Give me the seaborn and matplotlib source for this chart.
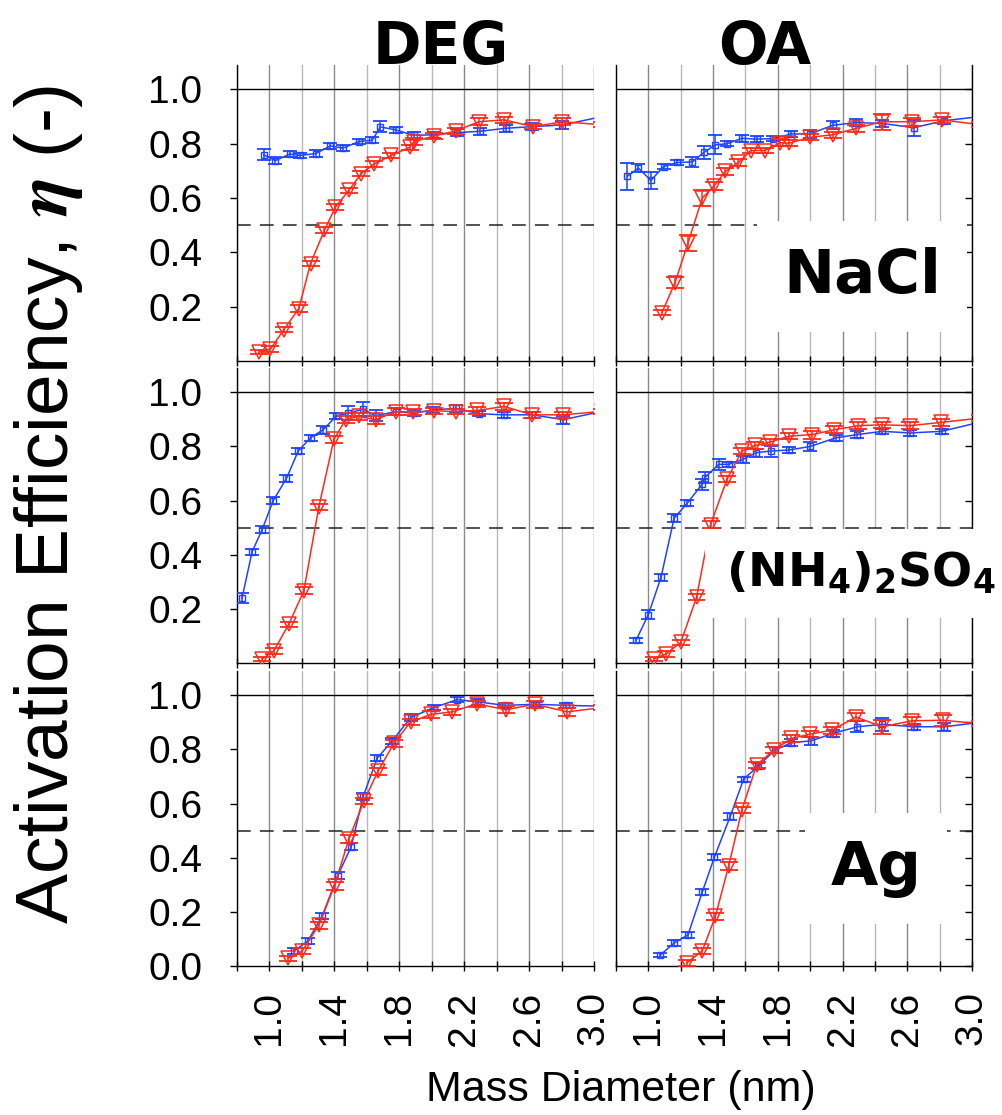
import numpy as np
import matplotlib
matplotlib.use("Agg")
import matplotlib.pyplot as plt
import seaborn as sns
from matplotlib import font_manager as fm

# ---------------- data ----------------
col_titles = ["DEG", "OA"]
row_labels = ["NaCl", r"$\mathbf{(NH_4)_2SO_4}$", "Ag"]
x_major = [1.0, 1.4, 1.8, 2.2, 2.6, 3.0]
x_minor = [0.8, 1.2, 1.6, 2.0, 2.4, 2.8]
x_ticklabels = ["1.0", "1.4", "1.8", "2.2", "2.6", "3.0"]
y_ticks_full = [0.0, 0.2, 0.4, 0.6, 0.8, 1.0]
y_ticks_upper = [0.2, 0.4, 0.6, 0.8, 1.0]
y_ticklabels_full = ["0.0", "0.2", "0.4", "0.6", "0.8", "1.0"]
y_ticklabels_upper = ["0.2", "0.4", "0.6", "0.8", "1.0"]

# DEG / NaCl
deg_nacl_blue_x = [0.965, 1.037, 1.125, 1.191, 1.284, 1.376, 1.454, 1.551, 1.633, 1.684, 1.777, 1.89, 2.013, 2.157, 2.30, 2.455, 2.62, 2.805, 3.05]
deg_nacl_blue_y = [0.759, 0.738, 0.762, 0.757, 0.764, 0.792, 0.784, 0.808, 0.813, 0.862, 0.851, 0.831, 0.833, 0.841, 0.846, 0.857, 0.863, 0.869, 0.90]
deg_nacl_blue_e = [0.02, 0.012, 0.01, 0.01, 0.012, 0.012, 0.01, 0.01, 0.012, 0.02, 0.01, 0.012, 0.01, 0.012, 0.012, 0.012, 0.012, 0.015, 0.01]
deg_nacl_red_x = [0.934, 1.006, 1.088, 1.181, 1.253, 1.339, 1.407, 1.489, 1.565, 1.647, 1.75, 1.865, 1.89, 2.017, 2.147, 2.29, 2.445, 2.626, 2.805, 3.05]
deg_nacl_red_y = [0.032, 0.044, 0.115, 0.193, 0.359, 0.482, 0.567, 0.628, 0.690, 0.726, 0.757, 0.787, 0.808, 0.829, 0.847, 0.881, 0.888, 0.863, 0.881, 0.87]
deg_nacl_red_e = [0.008, 0.01, 0.01, 0.012, 0.01, 0.01, 0.01, 0.01, 0.01, 0.01, 0.01, 0.01, 0.012, 0.01, 0.01, 0.012, 0.012, 0.01, 0.012, 0.01]

# OA / NaCl
oa_nacl_blue_x = [0.869, 0.939, 1.016, 1.094, 1.18, 1.271, 1.343, 1.414, 1.486, 1.578, 1.669, 1.771, 1.884, 1.996, 2.139, 2.282, 2.445, 2.639, 2.829, 3.05]
oa_nacl_blue_y = [0.680, 0.710, 0.665, 0.716, 0.731, 0.733, 0.768, 0.796, 0.80, 0.820, 0.817, 0.819, 0.836, 0.836, 0.868, 0.878, 0.875, 0.859, 0.885, 0.90]
oa_nacl_blue_e = [0.05, 0.015, 0.03, 0.01, 0.01, 0.02, 0.025, 0.035, 0.01, 0.012, 0.01, 0.01, 0.01, 0.015, 0.015, 0.012, 0.012, 0.03, 0.012, 0.01]
oa_nacl_red_x = [1.084, 1.165, 1.245, 1.333, 1.404, 1.476, 1.557, 1.633, 1.720, 1.816, 1.869, 2.0, 2.139, 2.286, 2.441, 2.629, 2.816, 3.05]
oa_nacl_red_y = [0.178, 0.289, 0.435, 0.600, 0.643, 0.698, 0.731, 0.775, 0.775, 0.804, 0.802, 0.824, 0.833, 0.857, 0.881, 0.881, 0.888, 0.87]
oa_nacl_red_e = [0.01, 0.02, 0.03, 0.03, 0.015, 0.012, 0.012, 0.01, 0.01, 0.012, 0.012, 0.012, 0.012, 0.012, 0.03, 0.015, 0.01, 0.01]

# DEG / (NH4)2SO4
deg_as_blue_x = [0.831, 0.893, 0.955, 1.023, 1.105, 1.177, 1.253, 1.331, 1.413, 1.483, 1.578, 1.654, 1.777, 1.89, 2.009, 2.147, 2.291, 2.445, 2.62, 2.811, 3.05]
deg_as_blue_y = [0.240, 0.411, 0.493, 0.60, 0.682, 0.783, 0.832, 0.862, 0.913, 0.923, 0.938, 0.913, 0.929, 0.923, 0.935, 0.941, 0.921, 0.917, 0.917, 0.899, 0.93]
deg_as_blue_e = [0.02, 0.012, 0.012, 0.012, 0.012, 0.01, 0.01, 0.015, 0.012, 0.025, 0.025, 0.02, 0.012, 0.012, 0.01, 0.012, 0.01, 0.01, 0.01, 0.015, 0.01]
deg_as_red_x = [0.955, 1.027, 1.119, 1.212, 1.304, 1.397, 1.469, 1.551, 1.654, 1.777, 1.886, 2.013, 2.147, 2.28, 2.445, 2.62, 2.811, 3.05]
deg_as_red_y = [0.015, 0.045, 0.143, 0.267, 0.576, 0.826, 0.899, 0.911, 0.899, 0.929, 0.927, 0.932, 0.929, 0.933, 0.948, 0.917, 0.917, 0.93]
deg_as_red_e = [0.008, 0.01, 0.01, 0.012, 0.012, 0.012, 0.012, 0.012, 0.015, 0.012, 0.012, 0.012, 0.01, 0.012, 0.012, 0.012, 0.012, 0.01]

# OA / (NH4)2SO4
oa_as_blue_x = [0.924, 1.0, 1.078, 1.159, 1.241, 1.333, 1.349, 1.435, 1.496, 1.584, 1.665, 1.755, 1.869, 2.0, 2.159, 2.292, 2.445, 2.618, 2.812, 3.05]
oa_as_blue_y = [0.084, 0.179, 0.316, 0.535, 0.591, 0.661, 0.685, 0.734, 0.734, 0.752, 0.777, 0.783, 0.787, 0.80, 0.832, 0.844, 0.856, 0.85, 0.856, 0.89]
oa_as_blue_e = [0.01, 0.015, 0.012, 0.015, 0.012, 0.02, 0.02, 0.02, 0.01, 0.012, 0.015, 0.02, 0.01, 0.015, 0.012, 0.012, 0.01, 0.01, 0.01, 0.01]
oa_as_red_x = [1.033, 1.108, 1.2, 1.298, 1.384, 1.486, 1.578, 1.659, 1.751, 1.869, 2.012, 2.149, 2.298, 2.445, 2.618, 2.808, 3.05]
oa_as_red_y = [0.015, 0.033, 0.076, 0.243, 0.511, 0.679, 0.783, 0.804, 0.816, 0.838, 0.844, 0.862, 0.877, 0.880, 0.877, 0.889, 0.905]
oa_as_red_e = [0.008, 0.01, 0.01, 0.012, 0.012, 0.012, 0.012, 0.012, 0.012, 0.012, 0.015, 0.012, 0.012, 0.012, 0.012, 0.012, 0.01]

# DEG / Ag
deg_ag_blue_x = [1.15, 1.236, 1.325, 1.421, 1.504, 1.578, 1.664, 1.756, 1.87, 2.013, 2.157, 2.285, 2.449, 2.64, 2.825, 3.05]
deg_ag_blue_y = [0.055, 0.092, 0.185, 0.334, 0.441, 0.627, 0.768, 0.831, 0.918, 0.955, 0.984, 0.976, 0.963, 0.967, 0.963, 0.96]
deg_ag_blue_e = [0.01, 0.01, 0.01, 0.012, 0.012, 0.012, 0.012, 0.01, 0.012, 0.01, 0.01, 0.01, 0.01, 0.01, 0.01, 0.01]
deg_ag_red_x = [1.113, 1.201, 1.304, 1.401, 1.489, 1.582, 1.668, 1.767, 1.87, 1.997, 2.126, 2.276, 2.455, 2.636, 2.836, 3.05]
deg_ag_red_y = [0.028, 0.055, 0.150, 0.297, 0.468, 0.609, 0.719, 0.823, 0.902, 0.930, 0.939, 0.969, 0.947, 0.967, 0.939, 0.955]
deg_ag_red_e = [0.01, 0.012, 0.012, 0.015, 0.015, 0.012, 0.012, 0.012, 0.012, 0.012, 0.012, 0.012, 0.012, 0.012, 0.015, 0.01]

# OA / Ag
oa_ag_blue_x = [1.073, 1.159, 1.245, 1.333, 1.408, 1.506, 1.588, 1.680, 1.782, 1.884, 2.006, 2.139, 2.292, 2.445, 2.639, 2.829, 3.05]
oa_ag_blue_y = [0.040, 0.085, 0.115, 0.273, 0.402, 0.553, 0.690, 0.739, 0.798, 0.825, 0.832, 0.859, 0.884, 0.893, 0.884, 0.884, 0.90]
oa_ag_blue_e = [0.008, 0.01, 0.01, 0.01, 0.01, 0.012, 0.01, 0.012, 0.012, 0.012, 0.015, 0.012, 0.02, 0.025, 0.012, 0.015, 0.01]
oa_ag_red_x = [1.237, 1.333, 1.414, 1.496, 1.578, 1.669, 1.776, 1.884, 2.0, 2.135, 2.282, 2.445, 2.629, 2.822, 3.05]
oa_ag_red_y = [0.011, 0.056, 0.183, 0.369, 0.577, 0.743, 0.798, 0.841, 0.857, 0.871, 0.920, 0.884, 0.906, 0.908, 0.895]
oa_ag_red_e = [0.01, 0.012, 0.012, 0.015, 0.012, 0.012, 0.012, 0.012, 0.012, 0.012, 0.015, 0.025, 0.015, 0.02, 0.01]

panels = {
    (0, 0): (deg_nacl_blue_x, deg_nacl_blue_y, deg_nacl_blue_e, deg_nacl_red_x, deg_nacl_red_y, deg_nacl_red_e),
    (0, 1): (oa_nacl_blue_x, oa_nacl_blue_y, oa_nacl_blue_e, oa_nacl_red_x, oa_nacl_red_y, oa_nacl_red_e),
    (1, 0): (deg_as_blue_x, deg_as_blue_y, deg_as_blue_e, deg_as_red_x, deg_as_red_y, deg_as_red_e),
    (1, 1): (oa_as_blue_x, oa_as_blue_y, oa_as_blue_e, oa_as_red_x, oa_as_red_y, oa_as_red_e),
    (2, 0): (deg_ag_blue_x, deg_ag_blue_y, deg_ag_blue_e, deg_ag_red_x, deg_ag_red_y, deg_ag_red_e),
    (2, 1): (oa_ag_blue_x, oa_ag_blue_y, oa_ag_blue_e, oa_ag_red_x, oa_ag_red_y, oa_ag_red_e),
}

# ---------------- style ----------------
sns.set_style("white")
plt.rcParams["font.family"] = ["Liberation Sans", "DejaVu Sans"]
for key in ["text.color", "axes.labelcolor", "xtick.color", "ytick.color", "axes.edgecolor"]:
    plt.rcParams[key] = "black"
names = {f.name for f in fm.fontManager.ttflist}
has_narrow = "Liberation Sans Narrow" in names

BLUE = "#1f44ff"
RED = "#ff2a1a"
W, H = 1003, 1115

fig = plt.figure(figsize=(W / 100, H / 100), dpi=100)

col_px = [(237, 594), (616, 972)]
row_px = [(65, 361), (368, 663), (671, 966)]
xlims = [(0.8, 3.0), (0.82, 3.0)]

for r in range(3):
    for c in range(2):
        x0, x1 = col_px[c]
        y0, y1 = row_px[r]
        ax = fig.add_axes([x0 / W, 1 - y1 / H, (x1 - x0) / W, (y1 - y0) / H])
        bx, by, be, rx, ry, re = panels[(r, c)]

        ax.set_xlim(*xlims[c])
        ax.set_ylim(0, 1.09)
        ax.set_xticks(x_major)
        ax.set_xticks(x_minor, minor=True)
        ax.grid(axis="x", which="major", color="#8a8a8a", lw=1.0, zorder=0)
        ax.grid(axis="x", which="minor", color="#b8b8b8", lw=1.0, zorder=0)
        ax.set_axisbelow(True)

        ax.axhline(1.0, color="black", lw=1.0, zorder=1)
        ax.axhline(0.5, color="#222222", lw=1.1, ls=(0, (9, 6)), zorder=1)

        ax.errorbar(bx, by, yerr=be, fmt="none", ecolor=BLUE, elinewidth=1.1,
                    capsize=5.2, capthick=1.3, zorder=3)
        sns.lineplot(x=bx, y=by, ax=ax, color=BLUE, lw=1.1, marker="s", markersize=4.5,
                     mfc="none", mec=BLUE, mew=1.0, sort=False, estimator=None,
                     errorbar=None, zorder=3)
        ax.errorbar(rx, ry, yerr=re, fmt="none", ecolor=RED, elinewidth=1.1,
                    capsize=6.2, capthick=1.3, zorder=4)
        sns.lineplot(x=rx, y=ry, ax=ax, color=RED, lw=1.1, marker="v", markersize=9.5,
                     mfc="none", mec=RED, mew=1.1, sort=False, estimator=None,
                     errorbar=None, zorder=4)
        ax.set_xlabel("")
        ax.set_ylabel("")

        for s in ax.spines.values():
            s.set_color("black")
            s.set_linewidth(1.0)
        ax.spines["top"].set_visible(False)

        # x ticks
        ax.tick_params(axis="x", which="both", direction="inout", length=6.5, width=1.0,
                       color="black", bottom=True, top=False, labelsize=28, pad=15,
                       labelrotation=90, labelcolor="black")
        if r == 2:
            ax.set_xticklabels(x_ticklabels)
        else:
            ax.tick_params(axis="x", labelbottom=False)

        # y ticks
        if c == 0:
            ax.spines["right"].set_visible(False)
            if r == 2:
                ax.set_yticks(y_ticks_full)
                ax.set_yticklabels(y_ticklabels_full)
            else:
                ax.set_yticks(y_ticks_upper)
                ax.set_yticklabels(y_ticklabels_upper)
            ax.tick_params(axis="y", direction="out", length=5, width=1.0, color="black",
                           left=True, right=False, labelsize=28, pad=20, labelcolor="black")
        else:
            if r == 2:
                ax.set_yticks(np.arange(0.0, 1.01, 0.1))
            else:
                ax.set_yticks(y_ticks_upper)
            ax.tick_params(axis="y", direction="in", length=5, width=1.0, color="black",
                           left=False, right=True, labelleft=False, labelright=False)

        # compound label in the right column
        if c == 1:
            box = dict(boxstyle="square,pad=0.42", fc="white", ec="none")
            if r == 0:
                ax.text(0.691, 0.23, row_labels[0], transform=ax.transAxes, ha="center",
                        va="baseline", fontsize=44, fontweight="bold", family="DejaVu Sans",
                        color="black", bbox=box, zorder=10, clip_on=False)
            elif r == 1:
                ax.text(0.31, 0.258, row_labels[1], transform=ax.transAxes, ha="left",
                        va="baseline", fontsize=34, math_fontfamily="dejavusans",
                        color="black",
                        bbox=dict(boxstyle="square,pad=0.45", fc="white", ec="none"),
                        zorder=10, clip_on=False)
            else:
                ax.text(0.730, 0.275, row_labels[2], transform=ax.transAxes, ha="center",
                        va="baseline", fontsize=44, fontweight="bold", family="DejaVu Sans",
                        color="black", bbox=box, zorder=10, clip_on=False)

# column titles
if has_narrow:
    tkw = dict(family=["Liberation Sans Narrow", "DejaVu Sans"], fontsize=50, fontweight="bold")
else:
    tkw = dict(family=["DejaVu Sans"], fontsize=42, fontweight="bold")
fig.text(441 / W, 1 - 64 / H, col_titles[0], ha="center", va="baseline", color="black", **tkw)
fig.text(765 / W, 1 - 64 / H, col_titles[1], ha="center", va="baseline", color="black", **tkw)

# axis labels
fig.text(0.048, 1 - 505 / H, r"Activation Efficiency, $\boldsymbol{\eta}$ (-)", rotation=90,
         ha="center", va="center", fontsize=54, math_fontfamily="stix", color="black")
fig.text(621 / W, 1 - 1090 / H, "Mass Diameter (nm)", ha="center", va="center", fontsize=31,
         color="black")

fig.savefig("out.png", dpi=100)
